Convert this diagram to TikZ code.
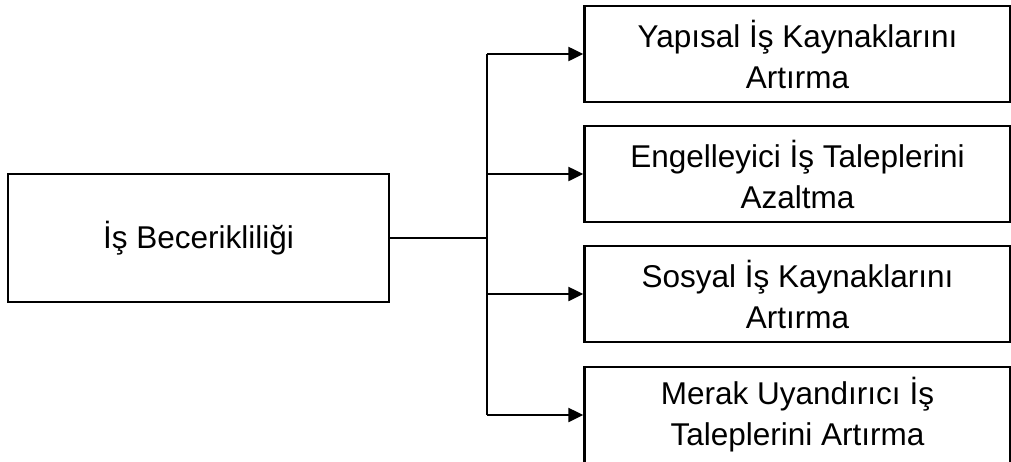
\documentclass[tikz,border=0pt]{standalone}
\usepackage{fontspec}
\setmainfont{Liberation Sans}
\usetikzlibrary{arrows.meta}
\begin{document}
\begin{tikzpicture}[x=1pt,y=-1pt,
  box/.style={draw=black,line width=2.5pt,rectangle,inner sep=0pt,align=center,
    font=\fontsize{31.5}{41}\selectfont},
  rbox/.style={box,minimum width=426pt,minimum height=96pt},
  conn/.style={line width=2.5pt},
  arr/.style={conn,-{Triangle[length=15pt,width=14pt]}}]
\useasboundingbox (0,0) rectangle (1011,461);
\clip (0,0) rectangle (1011,461);
\node[box,minimum width=381pt,minimum height=128pt] (L) at (198.5,238) {İş Becerikliliği};
\node[rbox] (b1) at (797.5,54) {Yapısal İş Kaynaklarını\\Artırma};
\node[rbox] (b2) at (797.5,174) {Engelleyici İş Taleplerini\\Azaltma};
\node[rbox] (b3) at (797.5,294) {Sosyal İş Kaynaklarını\\Artırma};
\node[rbox] (b4) at (797.5,415) {Merak Uyandırıcı İş\\Taleplerini Artırma};
\coordinate (j) at (487,238);
\draw[conn] (L.east) -- (j);
\draw[conn] (j|-b1.west) -- (j|-b4.west);
\foreach \b in {b1,b2,b3,b4}{
  \draw[arr] (j|-\b.west) -- (\b.west);
}
\end{tikzpicture}
\end{document}
